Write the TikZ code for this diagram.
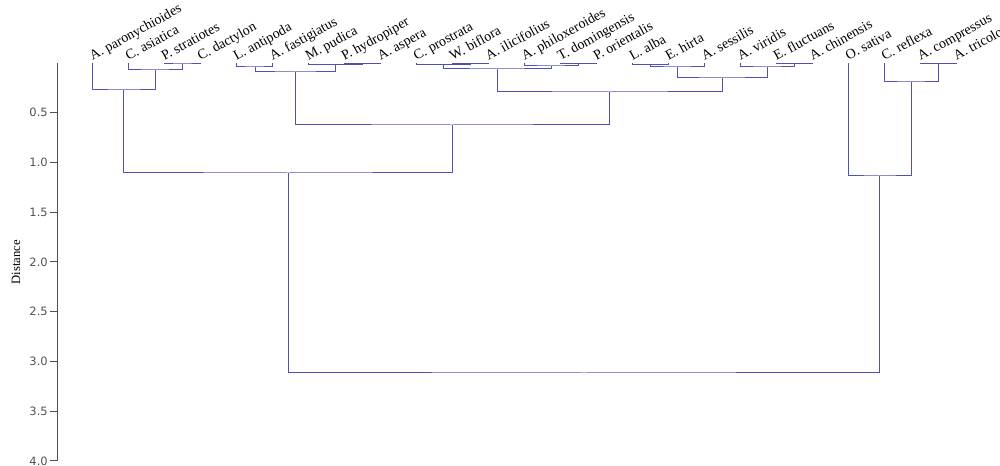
\documentclass[tikz,border=0pt]{standalone}
\usepackage{fontspec}
\setmainfont{Liberation Serif}
\newfontfamily\ticksfont{DejaVu Sans}
\definecolor{dendro}{RGB}{80,80,185}
\definecolor{axisgray}{RGB}{80,80,80}
\begin{document}
\begin{tikzpicture}[x=0.75pt,y=-0.75pt,
  link/.style={draw=dendro,line width=0.75pt},
  axisline/.style={draw=axisgray,line width=0.75pt},
  leaflabel/.style={anchor=base west,rotate=29,inner sep=0pt,font=\fontsize{10.5}{12}\selectfont},
  ticklabel/.style={anchor=east,inner sep=0pt,font=\ticksfont\fontsize{8.6}{10}\selectfont,text=axisgray},
  axistitle/.style={rotate=90,inner sep=0pt,font=\fontsize{9.5}{11}\selectfont}]
\useasboundingbox (0,0) rectangle (1000,466);

% leaves and their labels
\foreach \nm [count=\i from 0] in {A. paronychioides,C. asiatica,P. stratiotes,C. dactylon,L. antipoda,A. fastigiatus,M. pudica,P. hydropiper,A. aspera,C. prostrata,W. biflora,A. ilicifolius,A. philoxeroides,T. domingensis,P. orientalis,L. alba,E. hirta,A. sessilis,A. viridis,E. fluctuans,A. chinensis,O. sativa,C. reflexa,A. compressus,A. tricolor}{
  \coordinate (L\i) at ({92+36*\i},63);
  \node[leaflabel] (T\i) at ({92.5+36*\i},61) {\nm};
}

% internal nodes (x = midpoint of children, y = merge height)
\coordinate (n1) at (182,64);
\coordinate (n2) at (155,70);
\coordinate (n3) at (123.5,90);
\coordinate (n4) at (255,67);
\coordinate (n5) at (362,63.6);
\coordinate (n6) at (335,64.3);
\coordinate (n7) at (295,72);
\coordinate (n8) at (470,63.6);
\coordinate (n9) at (443,64.3);
\coordinate (n10) at (578,63.6);
\coordinate (n11) at (551,66);
\coordinate (n12) at (497,69);
\coordinate (n13) at (650,64.5);
\coordinate (n14) at (677,67);
\coordinate (n15) at (794,63.6);
\coordinate (n16) at (767,67);
\coordinate (n17) at (722,78);
\coordinate (n18) at (609.5,92);
\coordinate (n19) at (452,125);
\coordinate (n20) at (288,173);
\coordinate (n21) at (938,63.6);
\coordinate (n22) at (911,82);
\coordinate (n23) at (879.5,176);
\coordinate (root) at (583.75,373);

% links
\draw[link] (L2) |- (n1) -| (L3);
\draw[link] (L1) |- (n2) -| (n1);
\draw[link] (L0) |- (n3) -| (n2);
\draw[link] (L4) |- (n4) -| (L5);
\draw[link] (L7) |- (n5) -| (L8);
\draw[link] (L6) |- (n6) -| (n5);
\draw[link] (n4) |- (n7) -| (n6);
\draw[link] (L10) |- (n8) -| (L11);
\draw[link] (L9) |- (n9) -| (n8);
\draw[link] (L13) |- (n10) -| (L14);
\draw[link] (L12) |- (n11) -| (n10);
\draw[link] (n9) |- (n12) -| (n11);
\draw[link] (L15) |- (n13) -| (L16);
\draw[link] (n13) |- (n14) -| (L17);
\draw[link] (L19) |- (n15) -| (L20);
\draw[link] (L18) |- (n16) -| (n15);
\draw[link] (n14) |- (n17) -| (n16);
\draw[link] (n12) |- (n18) -| (n17);
\draw[link] (n7) |- (n19) -| (n18);
\draw[link] (n3) |- (n20) -| (n19);
\draw[link] (L23) |- (n21) -| (L24);
\draw[link] (L22) |- (n22) -| (n21);
\draw[link] (L21) |- (n23) -| (n22);
\draw[link] (n20) |- (root) -| (n23);

% axis
\coordinate (axtop) at (57,63);
\coordinate (axbot) at (57,461);
\draw[axisline] (axtop) -- (axbot);
\foreach \d/\lab [count=\k] in {0.5/0.5,1/1.0,1.5/1.5,2/2.0,2.5/2.5,3/3.0,3.5/3.5,4/4.0}{
  \coordinate (tk\k) at (57,{63+99.5*\d});
  \coordinate (tl\k) at (50,{63+99.5*\d});
  \draw[axisline] (tl\k) -- (tk\k);
  \node[ticklabel] (lab\k) at (48,{63+99.5*\d}) {\lab};
}
\node[axistitle] (dist) at (16,262) {Distance};
\end{tikzpicture}
\end{document}
